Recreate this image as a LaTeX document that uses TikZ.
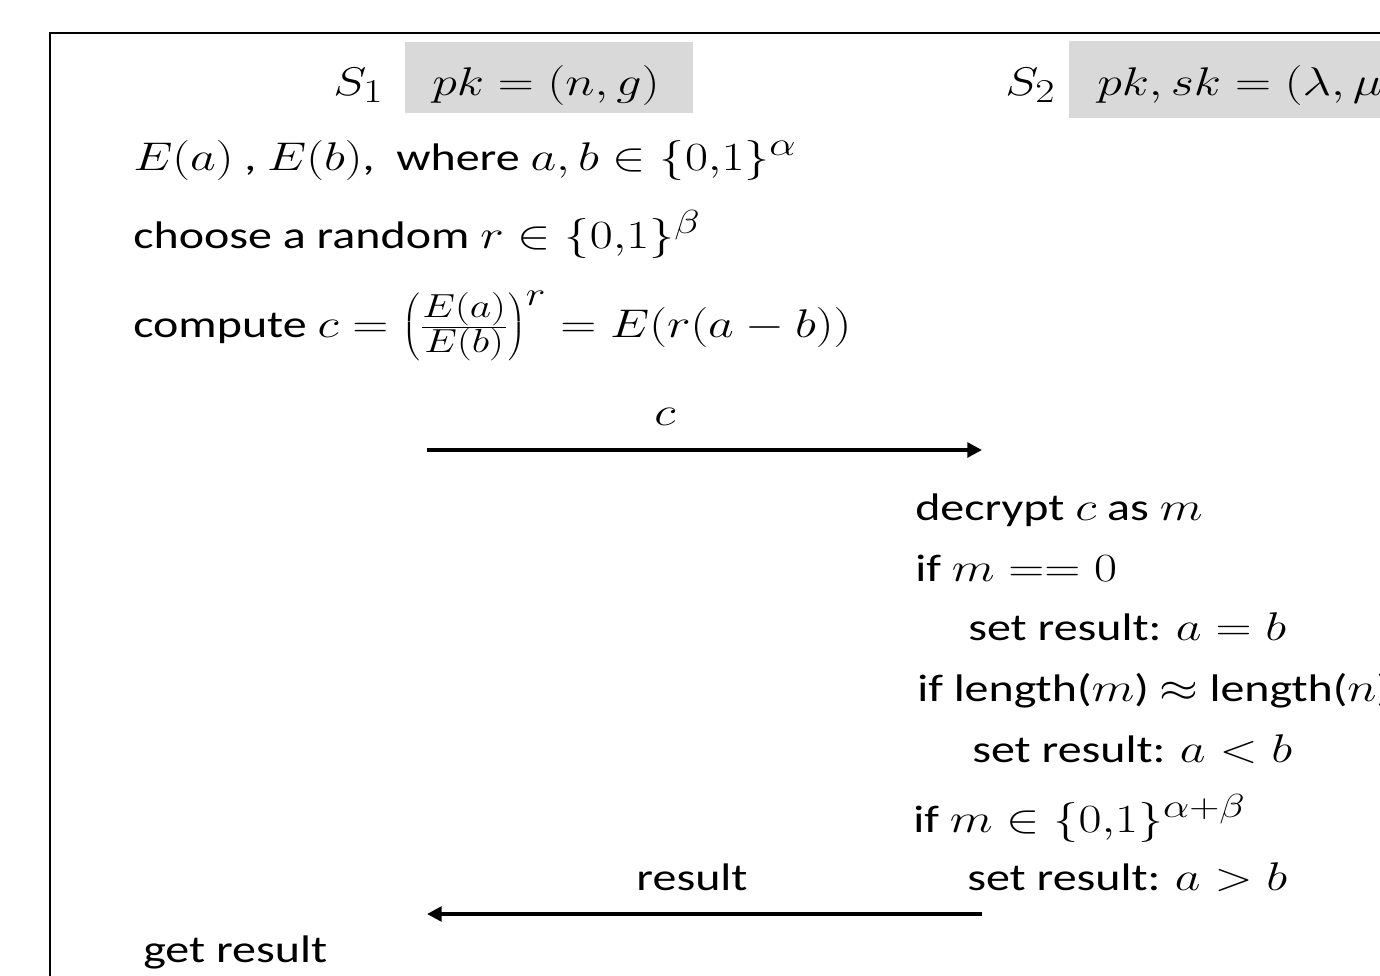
\documentclass[tikz,border=0pt]{standalone}
\usepackage{fontspec}
\usepackage{graphicx}
\setmainfont{Carlito}[Scale=0.96]
\usetikzlibrary{arrows.meta}
\definecolor{boxgray}{HTML}{D9D9D9}
\newcommand{\stretchtxt}[1]{\scalebox{1.507}[1.206]{#1}}
\tikzset{
  txt/.style={anchor=base west, inner sep=0pt, font=\fontsize{24.88}{30}\selectfont},
  lbl/.style={anchor=base, inner sep=0pt, font=\fontsize{24.88}{30}\selectfont},
  keybox/.style={fill=boxgray, draw=none},
  msg/.style={line width=2.6pt, -{Triangle[length=11pt,width=11pt]}},
  frame/.style={line width=1.8pt}
}
\begin{document}
\begin{tikzpicture}[x=0.75pt, y=-0.75pt]
\useasboundingbox (0,0) rectangle (1380,975);
\clip (0,0) rectangle (1380,975);
% frame
\draw[frame] (50,33) rectangle (1450,1050);
% key boxes
\fill[keybox] (405,42) rectangle (693,113);
\fill[keybox] (1069,41) rectangle (1450,118);
% headers
\node[txt] (s1) at (333,95) {\stretchtxt{$S_1$}};
\node[txt] (pk1) at (432,95) {\stretchtxt{$pk=(n,g)$}};
\node[txt] (s2) at (1005,95) {\stretchtxt{$S_2$}};
\node[txt] (pk2) at (1097,95) {\stretchtxt{$pk,sk=(\lambda,\mu)$}};
% S1 side
\node[txt] (l1) at (133,170) {\stretchtxt{$E(a)$ , $E(b)$,\ \ where $a,b\in\{0{,}1\}^{\alpha}$}};
\node[txt] (l2) at (133,248) {\stretchtxt{choose a random $r\in\{0{,}1\}^{\beta}$}};
\node[txt] (l3) at (133,337) {\stretchtxt{compute $c=\left(\frac{E(a)}{E(b)}\right)^{r}=E(r(a-b))$}};
% message 1
\coordinate (m1s) at (427,450);
\coordinate (m1e) at (982,450);
\draw[msg] (m1s) -- (m1e);
\node[lbl] (clbl) at (665,425) {\stretchtxt{$c$}};
% S2 side
\node[txt] (d1) at (915,520) {\stretchtxt{decrypt $c$ as $m$}};
\node[txt] (d2) at (915,581) {\stretchtxt{if $m==0$}};
\node[txt] (d3) at (968,640) {\stretchtxt{set result: $a=b$}};
\node[txt] (d4) at (917,701) {\stretchtxt{if length($m$) $\approx$ length($n$)}};
\node[txt] (d5) at (972,762) {\stretchtxt{set result: $a<b$}};
\node[txt] (d6) at (913,832) {\stretchtxt{if $m\in\{0{,}1\}^{\alpha+\beta}$}};
\node[txt] (d7) at (967,890) {\stretchtxt{set result: $a>b$}};
% message 2
\coordinate (m2s) at (982,914);
\coordinate (m2e) at (427,914);
\draw[msg] (m2s) -- (m2e);
\node[lbl] (rlbl) at (692,890) {\stretchtxt{result}};
% final
\node[txt] (g) at (143,962) {\stretchtxt{get result}};
\end{tikzpicture}
\end{document}
